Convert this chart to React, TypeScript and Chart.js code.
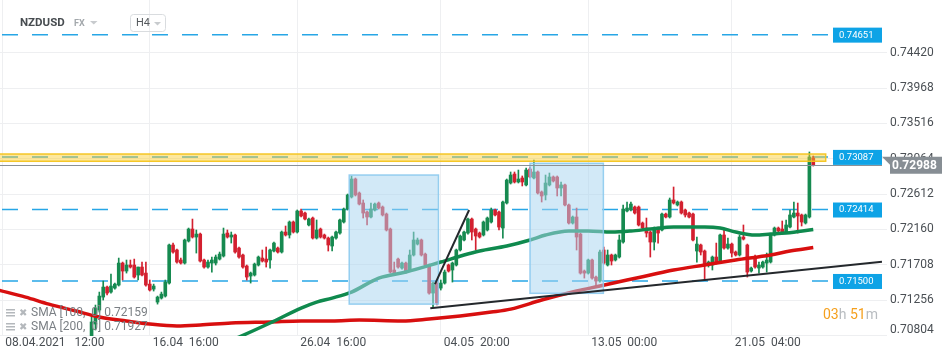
import React, { useEffect, useRef } from "react";
import { Chart, registerables } from "chart.js";

Chart.register(...registerables);

const FONT = "Roboto, 'Noto Sans', sans-serif";

// first candle index on the time axis (earlier candles sit below the visible price range)
const firstCandle = 22;

const opens = [
  0.70796, 0.70949, 0.71128, 0.71294, 0.71422, 0.71358, 0.71409, 0.71448, 0.71729, 0.71627,
  0.71704, 0.71704, 0.71576, 0.71678, 0.71601, 0.71460, 0.71396, 0.71230, 0.71281, 0.71307,
  0.71473, 0.71960, 0.71896, 0.71768, 0.71729, 0.72011, 0.72164, 0.72062, 0.72100, 0.71768,
  0.71678, 0.71729, 0.71729, 0.71780, 0.71819, 0.72113, 0.72062, 0.72088, 0.71921, 0.71832,
  0.71691, 0.71563, 0.71576, 0.71704, 0.71793, 0.71780, 0.71768, 0.71883, 0.71921, 0.71870,
  0.72126, 0.72088, 0.72254, 0.72126, 0.72395, 0.72369, 0.72216, 0.72305, 0.72049, 0.72164,
  0.72088, 0.72049, 0.71947, 0.72049, 0.72113, 0.72254, 0.72420, 0.72574, 0.72804, 0.72625,
  0.72497, 0.72382, 0.72318, 0.72408, 0.72497, 0.72446, 0.72356, 0.72164, 0.71640, 0.71780,
  0.71665, 0.71729, 0.71640, 0.71832, 0.71972, 0.72024, 0.71844, 0.71704, 0.71345, 0.71473,
  0.71409, 0.71473, 0.71704, 0.71640, 0.71704, 0.71896, 0.72024, 0.72113, 0.72292, 0.72164,
  0.72113, 0.72088, 0.72152, 0.72254, 0.72408, 0.72382, 0.72177, 0.72497, 0.72753, 0.72868,
  0.72766, 0.72817, 0.72728, 0.72932, 0.72817, 0.72894, 0.72638, 0.72600, 0.72728, 0.72830,
  0.72830, 0.72689, 0.72728, 0.72472, 0.72241, 0.72318, 0.72100, 0.71627, 0.71601, 0.71768,
  0.71550, 0.71499, 0.71896, 0.71704, 0.71832, 0.71768, 0.71806, 0.71998, 0.72395, 0.72408,
  0.72446, 0.72446, 0.72241, 0.72177, 0.72126, 0.71998, 0.72177, 0.72152, 0.72356, 0.72318,
  0.72536, 0.72472, 0.72510, 0.72408, 0.72369, 0.72356, 0.71883, 0.71960, 0.71883, 0.71704,
  0.71704, 0.71806, 0.71742, 0.72088, 0.71921, 0.71972, 0.71870, 0.71832, 0.72062, 0.71960,
  0.71627, 0.71793, 0.71665, 0.71678, 0.71729, 0.71742, 0.72088, 0.72177, 0.72164, 0.72126,
  0.72190, 0.72318, 0.72369, 0.72344, 0.72241, 0.72318, 0.73073,
];

const highs = [
  0.71052, 0.71192, 0.71358, 0.71499, 0.71435, 0.71588, 0.71473, 0.71793, 0.71742, 0.71768,
  0.71768, 0.71780, 0.71678, 0.71742, 0.71742, 0.71512, 0.71460, 0.71307, 0.71358, 0.71512,
  0.71972, 0.71985, 0.71908, 0.71793, 0.72036, 0.72177, 0.72292, 0.72152, 0.72113, 0.71780,
  0.71768, 0.71806, 0.71832, 0.71870, 0.72177, 0.72152, 0.72126, 0.72100, 0.71934, 0.71844,
  0.71704, 0.71614, 0.71729, 0.71819, 0.71896, 0.71934, 0.71908, 0.71998, 0.71934, 0.72139,
  0.72203, 0.72267, 0.72267, 0.72408, 0.72420, 0.72382, 0.72305, 0.72318, 0.72280, 0.72177,
  0.72100, 0.72062, 0.72075, 0.72139, 0.72292, 0.72433, 0.72612, 0.72843, 0.72817, 0.72638,
  0.72536, 0.72395, 0.72497, 0.72497, 0.72510, 0.72459, 0.72369, 0.72177, 0.71742, 0.71793,
  0.71742, 0.71742, 0.71896, 0.72126, 0.72049, 0.72036, 0.71857, 0.71716, 0.71486, 0.71486,
  0.71512, 0.71640, 0.71716, 0.71742, 0.71908, 0.72088, 0.72139, 0.72305, 0.72305, 0.72177,
  0.72126, 0.72267, 0.72318, 0.72433, 0.72420, 0.72395, 0.72523, 0.72804, 0.72894, 0.72894,
  0.72919, 0.72843, 0.72945, 0.72958, 0.73047, 0.72907, 0.72651, 0.72855, 0.72881, 0.72843,
  0.72843, 0.72766, 0.72740, 0.72484, 0.72331, 0.72433, 0.72113, 0.71640, 0.71780, 0.71780,
  0.71563, 0.71896, 0.71934, 0.71896, 0.71844, 0.71844, 0.72088, 0.72472, 0.72510, 0.72510,
  0.72459, 0.72459, 0.72254, 0.72305, 0.72139, 0.72190, 0.72190, 0.72369, 0.72369, 0.72561,
  0.72702, 0.72523, 0.72523, 0.72420, 0.72382, 0.72369, 0.72062, 0.71972, 0.71896, 0.71755,
  0.71819, 0.71985, 0.72100, 0.72152, 0.72049, 0.71985, 0.71883, 0.72088, 0.72216, 0.71972,
  0.71678, 0.71832, 0.71742, 0.71755, 0.71857, 0.72100, 0.72190, 0.72190, 0.72267, 0.72280,
  0.72408, 0.72510, 0.72497, 0.72356, 0.72356, 0.73150, 0.73098,
];

const lows = [
  0.70745, 0.70873, 0.71102, 0.71256, 0.71320, 0.71345, 0.71396, 0.71435, 0.71512, 0.71601,
  0.71665, 0.71537, 0.71512, 0.71563, 0.71435, 0.71371, 0.71371, 0.71204, 0.71268, 0.71294,
  0.71460, 0.71857, 0.71729, 0.71716, 0.71716, 0.71998, 0.72049, 0.71857, 0.71742, 0.71665,
  0.71665, 0.71614, 0.71704, 0.71768, 0.71806, 0.72049, 0.71985, 0.71857, 0.71793, 0.71665,
  0.71512, 0.71473, 0.71563, 0.71691, 0.71742, 0.71678, 0.71665, 0.71870, 0.71857, 0.71857,
  0.72075, 0.72049, 0.72113, 0.72113, 0.72318, 0.72280, 0.72203, 0.72036, 0.72036, 0.72049,
  0.72036, 0.71883, 0.71883, 0.72036, 0.72100, 0.72241, 0.72408, 0.72561, 0.72587, 0.72472,
  0.72305, 0.72216, 0.72305, 0.72395, 0.72420, 0.72331, 0.72139, 0.71601, 0.71576, 0.71665,
  0.71652, 0.71601, 0.71627, 0.71819, 0.71960, 0.71819, 0.71691, 0.71332, 0.71166, 0.71192,
  0.71384, 0.71460, 0.71614, 0.71486, 0.71691, 0.71883, 0.72011, 0.72100, 0.72024, 0.71896,
  0.72049, 0.72075, 0.72139, 0.72241, 0.72331, 0.72152, 0.72049, 0.72484, 0.72740, 0.72753,
  0.72753, 0.72715, 0.72715, 0.72817, 0.72804, 0.72612, 0.72510, 0.72536, 0.72715, 0.72766,
  0.72587, 0.72587, 0.72459, 0.72228, 0.72228, 0.71896, 0.71588, 0.71537, 0.71588, 0.71524,
  0.71422, 0.71486, 0.71716, 0.71691, 0.71704, 0.71755, 0.71793, 0.71985, 0.72382, 0.72395,
  0.72356, 0.72203, 0.72164, 0.72062, 0.71806, 0.71896, 0.71985, 0.72139, 0.72305, 0.72305,
  0.72484, 0.72459, 0.72356, 0.72318, 0.72305, 0.72011, 0.71742, 0.71832, 0.71512, 0.71678,
  0.71640, 0.71716, 0.71729, 0.71908, 0.71908, 0.71806, 0.71819, 0.71819, 0.72024, 0.71550,
  0.71614, 0.71665, 0.71601, 0.71665, 0.71614, 0.71729, 0.72075, 0.72126, 0.72100, 0.72113,
  0.72177, 0.72305, 0.72113, 0.72203, 0.72228, 0.72305, 0.72970,
];

const closes = [
  0.70975, 0.71153, 0.71307, 0.71422, 0.71345, 0.71435, 0.71460, 0.71729, 0.71627, 0.71704,
  0.71678, 0.71550, 0.71678, 0.71576, 0.71448, 0.71384, 0.71435, 0.71294, 0.71332, 0.71486,
  0.71960, 0.71870, 0.71742, 0.71729, 0.72024, 0.72164, 0.72062, 0.72100, 0.71755, 0.71678,
  0.71742, 0.71768, 0.71806, 0.71844, 0.72100, 0.72062, 0.72088, 0.71870, 0.71806, 0.71678,
  0.71550, 0.71601, 0.71716, 0.71806, 0.71755, 0.71742, 0.71896, 0.71985, 0.71870, 0.72126,
  0.72088, 0.72254, 0.72126, 0.72395, 0.72331, 0.72292, 0.72292, 0.72049, 0.72152, 0.72062,
  0.72049, 0.71960, 0.72062, 0.72126, 0.72280, 0.72420, 0.72600, 0.72804, 0.72600, 0.72484,
  0.72369, 0.72318, 0.72420, 0.72484, 0.72433, 0.72344, 0.72152, 0.71614, 0.71588, 0.71678,
  0.71729, 0.71614, 0.71832, 0.72024, 0.72024, 0.71832, 0.71704, 0.71345, 0.71473, 0.71217,
  0.71473, 0.71614, 0.71627, 0.71729, 0.71896, 0.72075, 0.72126, 0.72292, 0.72126, 0.72075,
  0.72062, 0.72254, 0.72305, 0.72408, 0.72344, 0.72190, 0.72510, 0.72791, 0.72855, 0.72766,
  0.72804, 0.72766, 0.72919, 0.72830, 0.72894, 0.72625, 0.72587, 0.72753, 0.72830, 0.72779,
  0.72689, 0.72728, 0.72472, 0.72241, 0.72318, 0.72062, 0.71601, 0.71601, 0.71768, 0.71537,
  0.71499, 0.71870, 0.71729, 0.71832, 0.71755, 0.71832, 0.72024, 0.72420, 0.72433, 0.72484,
  0.72369, 0.72216, 0.72177, 0.72113, 0.71998, 0.72152, 0.72113, 0.72356, 0.72318, 0.72536,
  0.72497, 0.72510, 0.72369, 0.72344, 0.72318, 0.72024, 0.71972, 0.71870, 0.71704, 0.71742,
  0.71806, 0.71729, 0.72088, 0.71921, 0.71972, 0.71857, 0.71832, 0.72062, 0.72036, 0.71614,
  0.71665, 0.71678, 0.71704, 0.71742, 0.71768, 0.72088, 0.72177, 0.72139, 0.72113, 0.72216,
  0.72344, 0.72369, 0.72331, 0.72254, 0.72344, 0.73086, 0.72988,
];

// SMA 100 (green) and SMA 200 (red), read at candle indices
const sma100Idx = [55, 60, 68, 76, 80, 84, 89, 96, 103, 112, 118, 122, 129, 135, 139, 145, 150, 156, 161, 166, 172, 180, 184, 188, 193, 197, 201, 208];
const sma100Val = [0.70681, 0.70783, 0.70962, 0.71153, 0.71230, 0.71281, 0.71358, 0.71537, 0.71614, 0.71742, 0.71832, 0.71883, 0.71947, 0.72024, 0.72088, 0.72139, 0.72139, 0.72126, 0.72139, 0.72164, 0.72190, 0.72190, 0.72177, 0.72126, 0.72088, 0.72100, 0.72113, 0.72159];
const sma200Idx = [-2, 5, 11, 18, 24, 31, 37, 44, 50, 58, 68, 76, 84, 91, 102, 109, 117, 125, 130, 138, 147, 153, 160, 166, 172, 180, 188, 197, 202, 208];
const sma200Val = [0.71384, 0.71294, 0.71204, 0.71115, 0.71039, 0.70988, 0.70949, 0.70924, 0.70936, 0.70962, 0.70975, 0.70988, 0.70988, 0.71000, 0.70988, 0.71013, 0.71052, 0.71102, 0.71140, 0.71256, 0.71371, 0.71435, 0.71512, 0.71576, 0.71640, 0.71704, 0.71768, 0.71832, 0.71883, 0.71927];

// axes
const xMin = -1.6;
const xMax = 227;
const yMin = 0.70796;
const yMax = 0.75094;
const xTickIndex = [-1, 37, 75, 112, 150, 187];
const xTickLabels = ["08.04.2021   12:00", "16.04  16:00", "26.04  16:00", "04.05  20:00", "13.05  00:00", "21.05  04:00"];
const yTicks = [0.70804, 0.71256, 0.71708, 0.7216, 0.72612, 0.73064, 0.73516, 0.73968, 0.7442];

// horizontal levels
const levelValues = [0.74651, 0.73087, 0.72414, 0.715];
const levelEndIdx = 211.8;
const zoneLow = 0.73031;
const zoneHigh = 0.73124;
const zoneEndIdx = 211.2;
const lastPrice = 0.72988;

// highlighted boxes
const boxStart = [88.4, 135.0];
const boxEnd = [111.4, 153.9];
const boxTop = [0.72855, 0.73005];
const boxBottom = [0.71204, 0.71342];

// trend lines
const trendFromIdx = [109.3, 110.5];
const trendFromVal = [0.7115, 0.7146];
const trendToIdx = [225.7, 119.3];
const trendToVal = [0.71746, 0.72408];

const smaLegend = ["SMA [100,  0] 0.72159", "SMA [200,  0] 0.71927"];

const GREEN = "#168a50";
const RED = "#d3202f";

const overlays = {
  id: "overlays",
  beforeDatasetsDraw(chart: any) {
    const { ctx, chartArea: a, scales } = chart;
    const x = scales.x, y = scales.y;
    ctx.save();
    ctx.beginPath();
    ctx.rect(a.left, a.top, a.right - a.left, a.bottom - a.top);
    ctx.clip();
    ctx.strokeStyle = "#27a6e6";
    ctx.lineWidth = 1.5;
    ctx.setLineDash([16, 14]);
    const xe = x.getPixelForValue(levelEndIdx);
    for (const v of levelValues) {
      const py = y.getPixelForValue(v);
      ctx.beginPath();
      ctx.moveTo(a.left + 2, py);
      ctx.lineTo(xe, py);
      ctx.stroke();
    }
    ctx.restore();
  },
  afterDatasetsDraw(chart: any) {
    const { ctx, chartArea: a, scales } = chart;
    const x = scales.x, y = scales.y;
    ctx.save();
    ctx.beginPath();
    ctx.rect(a.left, a.top, a.right - a.left, a.bottom - a.top);
    ctx.clip();
    ctx.setLineDash([]);
    // boxes
    for (let k = 0; k < boxStart.length; k++) {
      const x0 = x.getPixelForValue(boxStart[k]);
      const x1 = x.getPixelForValue(boxEnd[k]);
      const y0 = y.getPixelForValue(boxTop[k]);
      const y1 = y.getPixelForValue(boxBottom[k]);
      ctx.fillStyle = "rgba(168, 213, 240, 0.52)";
      ctx.fillRect(x0, y0, x1 - x0, y1 - y0);
      ctx.strokeStyle = "rgba(140, 202, 238, 0.9)";
      ctx.lineWidth = 1.5;
      ctx.strokeRect(x0, y0, x1 - x0, y1 - y0);
    }
    // zone band
    {
      const xe = x.getPixelForValue(zoneEndIdx);
      const y0 = y.getPixelForValue(zoneHigh);
      const y1 = y.getPixelForValue(zoneLow);
      ctx.fillStyle = "rgba(250, 205, 40, 0.45)";
      ctx.fillRect(a.left, y0, xe - a.left, y1 - y0);
      ctx.strokeStyle = "rgba(244, 196, 30, 0.95)";
      ctx.lineWidth = 1.5;
      ctx.strokeRect(a.left - 2, y0, xe - a.left + 2, y1 - y0);
    }
    // last price line
    {
      const py = Math.round(y.getPixelForValue(lastPrice)) + 0.5;
      ctx.strokeStyle = "#8a9197";
      ctx.lineWidth = 1;
      ctx.beginPath();
      ctx.moveTo(a.left, py);
      ctx.lineTo(a.right - 5, py);
      ctx.stroke();
    }
    // trend lines
    ctx.strokeStyle = "#24282c";
    ctx.lineWidth = 2;
    for (let k = 0; k < trendFromIdx.length; k++) {
      ctx.beginPath();
      ctx.moveTo(x.getPixelForValue(trendFromIdx[k]), y.getPixelForValue(trendFromVal[k]));
      ctx.lineTo(x.getPixelForValue(trendToIdx[k]), y.getPixelForValue(trendToVal[k]));
      ctx.stroke();
    }
    ctx.restore();
  },
  afterDraw(chart: any) {
    const { ctx, chartArea: a, scales } = chart;
    const x = scales.x, y = scales.y;
    ctx.save();
    ctx.textBaseline = "middle";
    ctx.textAlign = "left";
    ctx.fillStyle = "#4a4f54";
    ctx.font = `12px ${FONT}`;
    // y-axis labels (the lowest one is lifted to stay clear of the time axis)
    for (const v of yTicks) {
      const py = Math.min(y.getPixelForValue(v), a.bottom - 6);
      ctx.fillText(v.toFixed(5), a.right + 3, py);
    }
    // x-axis labels (left aligned at their grid lines)
    for (let k = 0; k < xTickIndex.length; k++) {
      ctx.fillText(xTickLabels[k], x.getPixelForValue(xTickIndex[k]) + 3, a.bottom + 7);
    }
    // level labels
    for (const v of levelValues) {
      const py = y.getPixelForValue(v);
      const bx = a.right - 54;
      ctx.fillStyle = "#0ea3e6";
      ctx.fillRect(bx, py - 7, 49, 15);
      ctx.fillStyle = "#ffffff";
      ctx.font = `9.5px ${FONT}`;
      ctx.fillText(v.toFixed(5), bx + 6, py + 0.5);
    }
    // last price label
    {
      const py = y.getPixelForValue(lastPrice);
      const x0 = a.right - 5;
      ctx.fillStyle = "#878e94";
      ctx.beginPath();
      ctx.moveTo(x0, py - 8);
      ctx.lineTo(942, py - 8);
      ctx.lineTo(942, py + 9);
      ctx.lineTo(x0 + 8, py + 9);
      ctx.lineTo(x0 + 8, py);
      ctx.closePath();
      ctx.fill();
      ctx.fillStyle = "#ffffff";
      ctx.font = `bold 12px ${FONT}`;
      ctx.fillText(lastPrice.toFixed(5), 892, py + 1);
    }
    // header
    ctx.fillStyle = "#474c50";
    ctx.font = `bold 11.5px ${FONT}`;
    ctx.fillText("NZDUSD", 20, 23);
    ctx.fillStyle = "#a3a8ac";
    ctx.font = `bold 9px ${FONT}`;
    ctx.fillText("FX", 74, 24);
    ctx.fillStyle = "#c8cbce";
    ctx.beginPath();
    ctx.moveTo(90, 21); ctx.lineTo(97.5, 21); ctx.lineTo(93.75, 24.5); ctx.closePath(); ctx.fill();
    ctx.strokeStyle = "#d9dcdf";
    ctx.lineWidth = 1;
    ctx.beginPath();
    if ((ctx as any).roundRect) (ctx as any).roundRect(130.5, 14.5, 35, 17, 3); else ctx.rect(130.5, 14.5, 35, 17);
    ctx.stroke();
    ctx.fillStyle = "#55595d";
    ctx.font = `11px ${FONT}`;
    ctx.fillText("H4", 136, 23.5);
    ctx.fillStyle = "#c8cbce";
    ctx.beginPath();
    ctx.moveTo(154, 22); ctx.lineTo(161, 22); ctx.lineTo(157.5, 25.5); ctx.closePath(); ctx.fill();
    // SMA legend
    const legendY = [313, 327];
    for (let k = 0; k < smaLegend.length; k++) {
      const ly = legendY[k];
      ctx.fillStyle = "#b4b8bc";
      ctx.fillRect(6, ly - 4, 9, 1.5);
      ctx.fillRect(6, ly - 1, 9, 1.5);
      ctx.fillRect(6, ly + 2, 9, 1.5);
      ctx.font = `10px "DejaVu Sans"`;
      ctx.fillText("\u2716", 19, ly);
      ctx.fillStyle = "#7a7f84";
      ctx.font = `12px ${FONT}`;
      ctx.fillText(smaLegend[k], 31, ly);
    }
    // countdown
    {
      let cx = 823;
      const cy = 315;
      const parts: [string, string][] = [["03", "#f5a01e"], ["h ", "#b8bcc0"], ["51", "#f5a01e"], ["m", "#b8bcc0"]];
      ctx.font = `14px ${FONT}`;
      for (const [t, c] of parts) {
        ctx.fillStyle = c;
        ctx.fillText(t, cx, cy);
        cx += ctx.measureText(t).width;
      }
    }
    ctx.restore();
  },
};

export default function App() {
  const ref = useRef<HTMLCanvasElement | null>(null);

  useEffect(() => {
    if (!ref.current) return;
    const idx = opens.map((_, k) => firstCandle + k);
    const colorOf = (k: number) => (closes[k] >= opens[k] ? GREEN : RED);
    const wickData = idx.map((xi, k) => ({ x: xi, y: [lows[k], highs[k]] }));
    const bodyData = idx.map((xi, k) => ({ x: xi, y: [opens[k], closes[k]] }));

    const chart = new Chart(ref.current, {
      type: "bar",
      data: {
        datasets: [
          {
            type: "line",
            data: sma100Idx.map((xi, k) => ({ x: xi, y: sma100Val[k] })),
            borderColor: "#0f8a4e",
            borderWidth: 3.5,
            pointRadius: 0,
            cubicInterpolationMode: "monotone",
            order: 0,
          } as any,
          {
            type: "line",
            data: sma200Idx.map((xi, k) => ({ x: xi, y: sma200Val[k] })),
            borderColor: "#d80f0f",
            borderWidth: 3.5,
            pointRadius: 0,
            cubicInterpolationMode: "monotone",
            order: 0,
          } as any,
          {
            type: "bar",
            data: bodyData as any,
            backgroundColor: (c: any) => colorOf(c.dataIndex),
            barThickness: 3,
            minBarLength: 1,
            grouped: false,
            order: 1,
          } as any,
          {
            type: "bar",
            data: wickData as any,
            backgroundColor: (c: any) => colorOf(c.dataIndex),
            barThickness: 1,
            grouped: false,
            order: 2,
          } as any,
        ],
      },
      options: {
        animation: false,
        responsive: false,
        devicePixelRatio: 1,
        events: [],
        layout: { padding: 0 },
        plugins: { legend: { display: false }, tooltip: { enabled: false } },
        scales: {
          x: {
            type: "linear",
            min: xMin,
            max: xMax,
            offset: false,
            bounds: "data",
            grid: { color: "#eeeff1", drawTicks: false, offset: false },
            border: { display: false },
            afterBuildTicks: (s: any) => {
              s.ticks = xTickIndex.map((v) => ({ value: v }));
            },
            afterFit: (s: any) => {
              s.height = 24;
              s.paddingLeft = 0;
              s.paddingRight = 0;
            },
            ticks: { display: false, autoSkip: false, maxRotation: 0, minRotation: 0 },
          },
          y: {
            type: "linear",
            position: "right",
            min: yMin,
            max: yMax,
            grid: { color: "#eeeff1", drawTicks: false },
            border: { display: false },
            afterBuildTicks: (s: any) => {
              s.ticks = yTicks.map((v) => ({ value: v }));
            },
            afterFit: (s: any) => {
              s.width = 63;
              s.paddingTop = 0;
              s.paddingBottom = 0;
            },
            ticks: { display: false },
          },
        },
      } as any,
      plugins: [overlays],
    });
    return () => chart.destroy();
  }, []);

  return (
    <div style={{ position: "fixed", left: 0, top: 0, width: 950, height: 360, background: "#ffffff" }}>
      <canvas ref={ref} width={950} height={360} style={{ display: "block" }} />
    </div>
  );
}
